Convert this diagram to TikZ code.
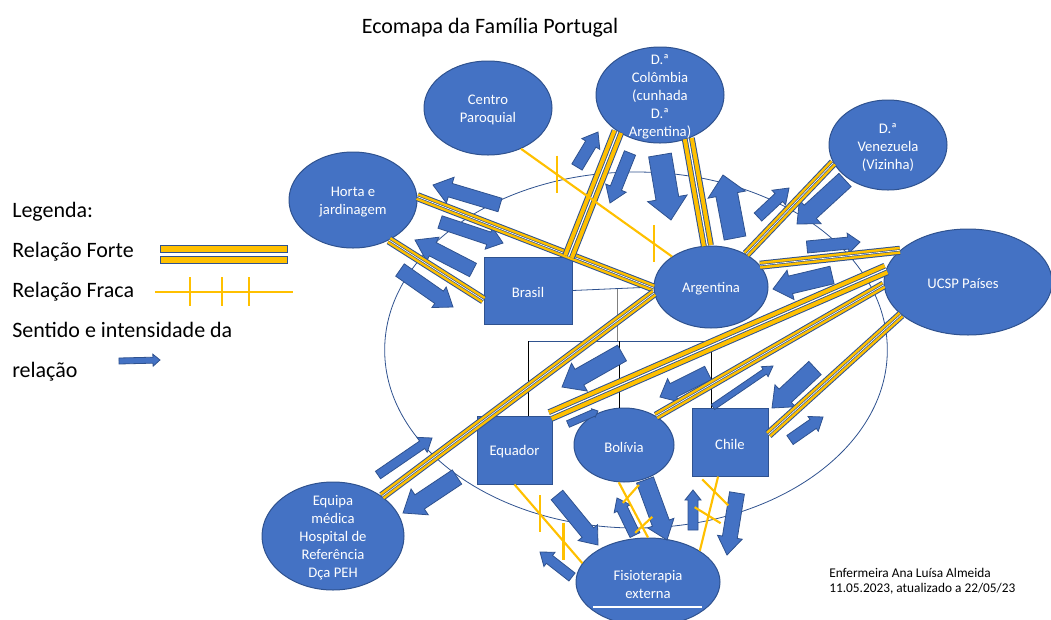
\documentclass[tikz,border=0pt]{standalone}
\usepackage{fontspec}
\setmainfont{Carlito}
\usetikzlibrary{calc,shapes.geometric,positioning}
\definecolor{azul}{HTML}{4472C4}
\definecolor{bord}{HTML}{2F528F}
\definecolor{amar}{HTML}{FFC000}
\tikzset{%
	ent/.style       = {ellipse, fill=azul, draw=bord, line width=0.75pt, inner sep=0pt},
	caixa/.style     = {rectangle, fill=azul, draw=bord, line width=0.75pt, inner sep=0pt},
	txt/.style       = {text=white, align=center, font=\fontsize{11}{13.5}\selectfont, inner sep=0pt, yshift=-1.5pt},
	leg/.style       = {anchor=base west, font=\fontsize{16.5}{20}\selectfont, inner sep=0pt},
	forte/.style     = {draw=bord, line width=6.8pt, postaction={draw=amar, line width=5.3pt}, postaction={draw=bord, line width=1.5pt}, postaction={draw=white, line width=0.5pt}},
	fortel/.style    = {draw=bord, line width=9.8pt, postaction={draw=amar, line width=8.3pt}, postaction={draw=bord, line width=2.2pt}, postaction={draw=white, line width=0.9pt}},
	fraca/.style     = {draw=amar, line width=1.6pt},
	setabloco/.style = {fill=azul, draw=bord, line width=0.6pt, line join=miter},
	gen/.style       = {draw=bord, line width=0.6pt},
}
% seta em bloco: cauda, ponta, largura do corpo, largura da cabeca, comprimento da cabeca (px)
\newcommand\blocoseta[5]{%
	\pgfmathsetmacro\sw{0.375*#3}%
	\pgfmathsetmacro\hw{0.375*#4}%
	\pgfmathsetmacro\hl{0.75*#5}%
	\coordinate (sa-h) at ($#2!\hl pt!#1$);
	\filldraw[setabloco] ($#1!\sw pt!90:#2$) -- ($(sa-h)!\sw pt!90:#2$) -- ($(sa-h)!\hw pt!90:#2$) -- #2
		-- ($(sa-h)!\hw pt!-90:#2$) -- ($(sa-h)!\sw pt!-90:#2$) -- ($#1!\sw pt!-90:#2$) -- cycle;
}

\begin{document}
\begin{tikzpicture}[x=0.75pt, y=-0.75pt]
		\useasboundingbox (0,0) rectangle (1051,619);
		
		\node[anchor=base, font=\fontsize{16.5}{20}\selectfont, inner sep=0pt] (titulo) at (490,33) {Ecomapa da Família Portugal};
		
		% familia
		\draw[bord, line width=0.6pt] (636,350) ellipse [x radius=188.5pt, y radius=133.5pt];
		
		\node[caixa, minimum width=66pt, minimum height=50.25pt] (bra) at (528,290.5) {};
		\node[ent, minimum width=85.5pt, minimum height=61.5pt] (arg) at (711,287) {};
		\node[caixa, minimum width=56.25pt, minimum height=51pt] (equ) at (514.5,450) {};
		\node[ent, minimum width=75pt, minimum height=55.5pt] (bol) at (624,445) {};
		\node[caixa, minimum width=57pt, minimum height=51pt] (chi) at (730,442) {};
		
		\draw[gen] (bra.east) -- (arg.west) coordinate[pos=.55] (uniao);
		\coordinate (filhos-w) at (528,341);
		\coordinate (filhos-b) at (619,341);
		\coordinate (filhos-c) at (711,341);
		\coordinate (filhos-e) at (712,341);
		\draw[gen] (filhos-w) -- (filhos-e);
		\draw[gray, line width=0.8pt] (uniao) -- (uniao |- filhos-w);
		\draw[line width=0.6pt] (filhos-w) -- (filhos-w |- equ.north);
		\draw[line width=0.6pt] (filhos-b) -- (filhos-b |- bol.north);
		\draw[line width=0.6pt] (filhos-c) -- (filhos-c |- chi.north);
		
		% sistemas externos
		\node[ent, minimum width=96pt, minimum height=70.5pt] (cp) at (488,108) {};
		\node[ent, minimum width=96pt, minimum height=72pt] (col) at (660,95) {};
		\node[ent, minimum width=88.5pt, minimum height=67.5pt] (ven) at (888,145) {};
		\node[ent, minimum width=96pt, minimum height=72pt] (horta) at (353,200) {};
		\node[ent, minimum width=126pt, minimum height=79.5pt] (ucsp) at (968,282) {};
		\node[ent, minimum width=106.5pt, minimum height=81pt] (equipa) at (333,536) {};
		\node[ent, minimum width=108pt, minimum height=66pt] (fis) at (648,582) {};
		\draw[white, line width=1.5pt] (593,607) -- (702,607);
		
		% setas
		\blocoseta{(500,205)}{(433,185)}{14}{27}{18}
		\blocoseta{(440,222)}{(503,243)}{13}{23}{15}
		\blocoseta{(473,270)}{(415,240)}{15}{27}{20}
		\blocoseta{(400,270)}{(453,307)}{15}{25}{17}
		\blocoseta{(577,167)}{(598,132)}{12}{21}{14}
		\blocoseta{(630,153)}{(610,203)}{12}{22}{16}
		\blocoseta{(660,155)}{(671,220)}{23}{40}{22}
		\blocoseta{(735,238)}{(723,175)}{22}{38}{20}
		\blocoseta{(758,217)}{(789,188)}{11}{20}{14}
		\blocoseta{(845,180)}{(797,224)}{18}{32}{18}
		\blocoseta{(807,247)}{(860,242)}{12}{20}{12}
		\blocoseta{(832,275)}{(773,289)}{18}{30}{18}
		\blocoseta{(622,353)}{(562,387)}{18}{32}{20}
		\blocoseta{(568,424)}{(598,411)}{7}{9}{5}
		\blocoseta{(708,373)}{(660,397)}{15}{26}{15}
		\blocoseta{(713,407)}{(773,366)}{6}{12}{10}
		\blocoseta{(815,368)}{(772,408)}{18}{30}{18}
		\blocoseta{(790,440)}{(823,417)}{11}{18}{12}
		\blocoseta{(378,475)}{(432,438)}{9}{18}{12}
		\blocoseta{(457,477)}{(403,513)}{17}{31}{20}
		\blocoseta{(557,495)}{(598,545)}{15}{25}{16}
		\blocoseta{(572,577)}{(540,552)}{10}{18}{12}
		\blocoseta{(635,535)}{(617,498)}{11}{18}{12}
		\blocoseta{(645,480)}{(667,540)}{18}{28}{18}
		\blocoseta{(693,530)}{(693,490)}{10}{16}{10}
		\blocoseta{(737,493)}{(727,555)}{15}{25}{18}
		
		% relacoes fortes
		\draw[forte] (horta.3) -- (arg.181);
		\draw[forte] (horta.-48) -- (bra.192);
		\draw[fortel] (bra.40) -- (col.221);
		\draw[fortel] (arg.95) -- (col.-57);
		\draw[forte] (arg.43) -- (ven.198);
		\draw[forte] (arg.24) -- (ucsp.155);
		\draw[forte] (arg.186) -- (equipa.39);
		\draw[fortel] (ucsp.171) -- (equ.44);
		\draw[forte] (ucsp.182) -- (bol.42);
		\draw[forte] (ucsp.206) -- (chi.11);
		
		% relacoes fracas
		\draw[fraca] (cp.-51) -- (arg.142) coordinate[pos=.236] (cpa1) coordinate[pos=.879] (cpa2);
		\draw[fraca] ($(cpa1)+(0,-18.5)$) -- ($(cpa1)+(0,18.5)$);
		\draw[fraca] ($(cpa2)+(0,-18.5)$) -- ($(cpa2)+(0,18.5)$);
		\draw[fraca] (equ.south) -- (fis.164) coordinate[pos=.372] (eqf1) coordinate[pos=.723] (eqf2);
		\draw[fraca] ($(eqf1)+(0,-18.5)$) -- ($(eqf1)+(0,18.5)$);
		\draw[fraca] ($(eqf2)+(0,-18.5)$) -- ($(eqf2)+(0,18.5)$);
		\draw[fraca] (bol.262) -- (fis.90) coordinate[pos=.21] (bof1) coordinate[pos=.77] (bof2);
		\draw[fraca] ($(bof1)+(-2,9)$) -- ($(bof1)+(14,-9)$);
		\draw[fraca] ($(bof2)+(-6,8)$) -- ($(bof2)+(11,-8)$);
		\draw[fraca] (chi.251) -- (fis.31) coordinate[pos=.213] (chf1) coordinate[pos=.52] (chf2);
		\draw[fraca] ($(chf1)+(-12,-13)$) -- ($(chf1)+(14,13)$);
		\draw[fraca] ($(chf2)+(-14,-8)$) -- ($(chf2)+(12,8)$);
		
		% textos
		\node[txt] (bra-t) at (bra) {Brasil};
		\node[txt] (arg-t) at (arg) {Argentina};
		\node[txt] (equ-t) at (equ) {Equador};
		\node[txt] (bol-t) at (bol) {Bolívia};
		\node[txt] (chi-t) at (chi) {Chile};
		\node[txt] (cp-t) at (cp) {Centro\\Paroquial};
		\node[txt] (col-t) at (col) {D.ª\\Colômbia\\(cunhada\\D.ª\\Argentina)};
		\node[txt] (ven-t) at (ven) {D.ª\\Venezuela\\(Vizinha)};
		\node[txt] (horta-t) at (horta) {Horta e\\jardinagem};
		\node[txt] (ucsp-t) at ([xshift=-3.75pt]ucsp.center) {UCSP Países};
		\node[txt] (equipa-t) at (equipa) {Equipa\\médica\\Hospital de\\Referência\\Dça PEH};
		\node[txt] (fis-t) at (fis) {Fisioterapia\\externa};
		
		% legenda
		\node[leg] (leg0) at (12,217) {Legenda:};
		\node[leg] (leg1) at (12,257) {Relação Forte};
		\node[leg] (leg2) at (12,297) {Relação Fraca};
		\node[leg] (leg3) at (12,337) {Sentido e intensidade da};
		\node[leg] (leg4) at (12,377) {relação};
		\draw[fill=amar, draw=bord, line width=0.75pt] (160,245) rectangle (287,252);
		\draw[fill=amar, draw=bord, line width=0.75pt] (160,256) rectangle (287,263);
		\draw[fraca] (155,292) -- (293,292);
		\foreach \x in {190,222,249} \draw[fraca] (\x,277) -- (\x,306);
		\blocoseta{(119,361)}{(160,360)}{6}{12}{7}
		
		\node[anchor=base west, font=\fontsize{10}{12}\selectfont, inner sep=0pt] (autora) at (829,577) {Enfermeira Ana Luísa Almeida};
		\node[anchor=base west, font=\fontsize{10}{12}\selectfont, inner sep=0pt] (data) at (829,592) {11.05.2023, atualizado a 22/05/23};
\end{tikzpicture}
\end{document}
